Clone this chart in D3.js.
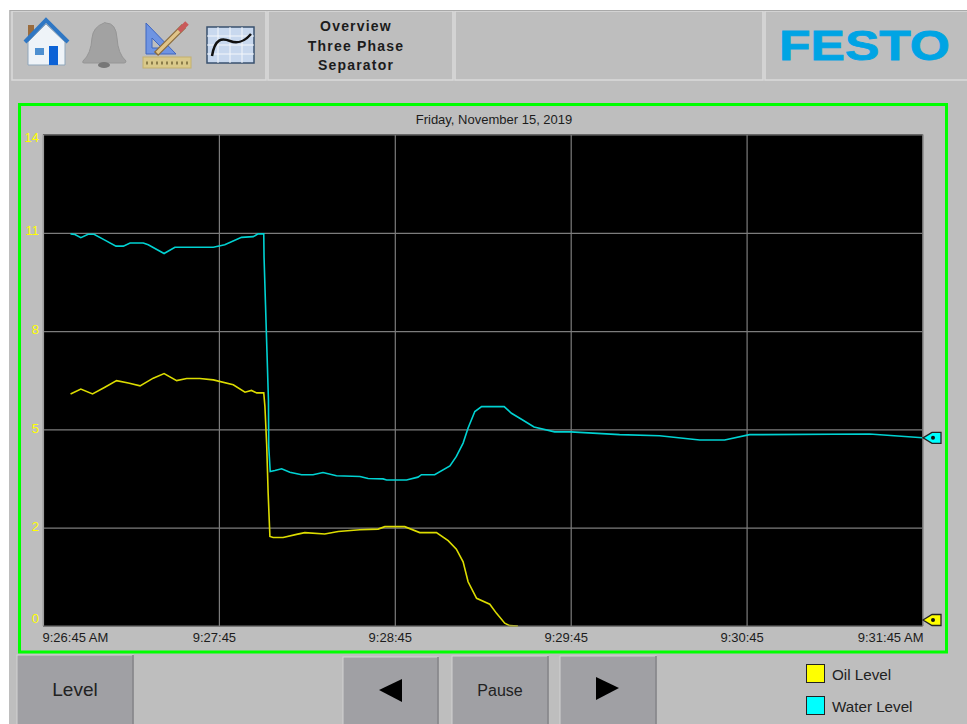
<!DOCTYPE html>
<html>
<head>
<meta charset="utf-8">
<title>Overview Three Phase Separator</title>
<script src="https://cdn.jsdelivr.net/npm/d3@7"></script>
<style>
    html, body { margin: 0; padding: 0; background: #fff; overflow: hidden; }
    svg { display: block; font-family: "Liberation Sans", Arial, sans-serif; }
</style>
</head>
<body>
<div id="hmi"></div>
<script>
const WIDTH = 967, HEIGHT = 724;
const PANEL = "#bebebe", BUTTON = "#a0a0a4";

const chartDate = "Friday, November 15, 2019";
const headerLines = ["Overview", "Three Phase", "Separator"];
const logoText = "FESTO";

// seconds after 9:26:45
const xTicks = [0, 60, 120, 180, 240, 300];
const xTickLabels = ["9:26:45 AM", "9:27:45", "9:28:45", "9:29:45", "9:30:45", "9:31:45 AM"];
const yTicks = [0, 2.8, 5.6, 8.4, 11.2, 14];
const yTickLabels = ["0", "2", "5", "8", "11", "14"];

const waterSeconds = [9.4, 10.9, 12.9, 15.4, 17.4, 21.1, 24.9, 27.4, 29.7, 34.2, 35.9, 41.3, 45, 58.1, 62, 67.7, 71.7, 73.4, 75.3, 75.4, 75.9, 76.4, 76.9, 77, 77.5, 79.1, 81.4, 84.2, 88.2, 92.1, 95.5, 100.1, 108.1, 110.9, 116, 117.2, 124, 127.9, 129.1, 133.6, 138.8, 141, 143.3, 145, 147.3, 149.6, 157.3, 159.8, 163.2, 167.5, 174.5, 180, 196.7, 210.3, 224, 232.5, 241, 281.9, 300];
const waterLevel = [11.17, 11.15, 11.06, 11.16, 11.16, 10.99, 10.82, 10.82, 10.91, 10.91, 10.86, 10.61, 10.79, 10.79, 10.86, 11.07, 11.09, 11.17, 11.17, 10.5, 9.15, 7.8, 6.44, 5.11, 4.4, 4.43, 4.48, 4.38, 4.31, 4.31, 4.37, 4.28, 4.26, 4.2, 4.19, 4.16, 4.16, 4.24, 4.31, 4.31, 4.56, 4.83, 5.21, 5.64, 6.11, 6.25, 6.25, 6.06, 5.89, 5.67, 5.53, 5.53, 5.45, 5.42, 5.3, 5.3, 5.45, 5.47, 5.36];

const oilSeconds = [9.4, 12.9, 16.9, 21.1, 25.1, 29.1, 33.1, 37.6, 41.3, 45.6, 49, 53.5, 58.1, 64.9, 68.9, 71.1, 72.9, 75.3, 75.7, 76.3, 76.8, 77.4, 78.5, 81.9, 86.5, 89.3, 96.1, 100.7, 108.1, 114.3, 116.6, 123.4, 128.5, 134.2, 138.2, 141, 143.3, 145, 147.9, 152.4, 154.7, 157.5, 159.2, 162];
const oilLevel = [6.61, 6.75, 6.61, 6.8, 6.99, 6.92, 6.84, 7.06, 7.19, 6.99, 7.05, 7.05, 7.01, 6.87, 6.66, 6.71, 6.64, 6.64, 6.25, 5.16, 3.78, 2.55, 2.52, 2.52, 2.61, 2.66, 2.62, 2.69, 2.74, 2.76, 2.83, 2.83, 2.66, 2.66, 2.43, 2.19, 1.83, 1.26, 0.79, 0.62, 0.36, 0.08, 0.01, 0];

const seriesNames = ["Oil Level", "Water Level"];
const seriesColors = ["#ffff00", "#00ffff"];
const lineColors = ["#dcdc00", "#00d2d2"];

const svg = d3.select("#hmi").append("svg").attr("width", WIDTH).attr("height", HEIGHT);

drawFrame();
drawIcons();
drawChart();
drawButtons();
drawLegend();

function drawFrame() {
    svg.append("rect").attr("x", 9).attr("y", 10).attr("width", WIDTH - 9).attr("height", HEIGHT - 10).attr("fill", PANEL);

    const cells = [[12, 254], [268, 185], [455, 308], [765, 210]];
    svg.selectAll("rect.cell")
        .data(cells)
        .enter().append("rect")
        .attr("class", "cell")
        .attr("x", d => d[0]).attr("y", 11)
        .attr("width", d => d[1]).attr("height", 69)
        .attr("fill", PANEL)
        .attr("stroke", "#dadada")
        .attr("stroke-width", 1.5);
    svg.append("line").attr("x1", 10).attr("x2", WIDTH).attr("y1", 10.5).attr("y2", 10.5).attr("stroke", "#a9a9a9");

    svg.selectAll("text.head")
        .data(headerLines)
        .enter().append("text")
        .attr("class", "head")
        .attr("x", 356)
        .attr("y", (d, i) => 31 + i * 19.5)
        .attr("text-anchor", "middle")
        .attr("font-size", 14)
        .attr("font-weight", "bold")
        .attr("letter-spacing", 1.2)
        .attr("fill", "#1c1c1c")
        .text(d => d);

    svg.append("text")
        .attr("x", 779).attr("y", 59.5)
        .attr("textLength", 171)
        .attr("lengthAdjust", "spacingAndGlyphs")
        .attr("font-size", 43)
        .attr("font-weight", "bold")
        .attr("fill", "#00a4e4")
        .attr("stroke", "#00a4e4")
        .attr("stroke-width", 0.8)
        .text(logoText);

    svg.append("rect")
        .attr("x", 19.5).attr("y", 104.5)
        .attr("width", 927).attr("height", 547.5)
        .attr("fill", "none")
        .attr("stroke", "#00ff00")
        .attr("stroke-width", 3);
}

function drawIcons() {
    // house
    const house = svg.append("g");
    house.append("rect").attr("x", 28).attr("y", 25).attr("width", 6).attr("height", 14).attr("fill", "#9a6b3c");
    house.append("path").attr("d", "M28 42 L46 24 L65 42 V65 H28 Z").attr("fill", "#eef3f8").attr("stroke", "#8fa6bb");
    house.append("path").attr("d", "M25 42 L46 20 L68 42").attr("fill", "none").attr("stroke", "#2f77c4").attr("stroke-width", 4);
    house.append("rect").attr("x", 35).attr("y", 48).attr("width", 9).attr("height", 7).attr("fill", "#4d8fd0");
    house.append("rect").attr("x", 49).attr("y", 46).attr("width", 9).attr("height", 19).attr("fill", "#0c62d6");

    // bell
    svg.append("path")
        .attr("d", "M104 23 Q104 22 106 23 Q116 23 117 38 Q118 54 126 61 Q126 63 124 63 H84 Q82 63 83 61 Q91 54 92 38 Q93 27 104 23 Z")
        .attr("fill", "#a2a2a2").attr("stroke", "#969696");
    svg.append("ellipse").attr("cx", 104).attr("cy", 65).attr("rx", 6).attr("ry", 3).attr("fill", "#777");

    // set square, ruler, pencil
    svg.append("path").attr("d", "M146 23 L176 54 H146 Z M152 38 V48 H162 Z").attr("fill", "#6f94e2").attr("fill-rule", "evenodd").attr("stroke", "#3f66c0");
    svg.append("rect").attr("x", 143).attr("y", 57).attr("width", 48).attr("height", 11).attr("fill", "#d9c98a").attr("stroke", "#c4b06c");
    svg.append("line").attr("x1", 146).attr("x2", 188).attr("y1", 63).attr("y2", 63).attr("stroke", "#8a7c4a").attr("stroke-width", 3).attr("stroke-dasharray", "2 3");
    svg.append("line").attr("x1", 156).attr("y1", 54).attr("x2", 184).attr("y2", 26).attr("stroke", "#8a6a3a").attr("stroke-width", 6);
    svg.append("line").attr("x1", 157).attr("y1", 53).attr("x2", 183).attr("y2", 27).attr("stroke", "#e0c488").attr("stroke-width", 3.5);
    svg.append("line").attr("x1", 179).attr("y1", 31).attr("x2", 187).attr("y2", 23).attr("stroke", "#c95a5a").attr("stroke-width", 5);

    // trend chart
    svg.append("rect").attr("x", 207).attr("y", 27).attr("width", 47).attr("height", 36).attr("fill", "#c8d8ee").attr("stroke", "#38506e").attr("stroke-width", 1.5);
    [218, 230, 242].forEach(x => svg.append("line").attr("x1", x).attr("x2", x).attr("y1", 27).attr("y2", 63).attr("stroke", "#f4f7fb"));
    [36, 45, 54].forEach(y => svg.append("line").attr("x1", 207).attr("x2", 254).attr("y1", y).attr("y2", y).attr("stroke", "#f4f7fb"));
    svg.append("path").attr("d", "M212 56 C215 38 222 38 230 41 C238 44 244 42 251 34").attr("fill", "none").attr("stroke", "#111").attr("stroke-width", 2.5);
}

function drawChart() {
    const left = 43, right = 922.5, top = 134.5, bottom = 626;
    const x = d3.scaleLinear().domain([0, 300]).range([left, right]);
    const y = d3.scaleLinear().domain([0, 14]).range([bottom, top]);

    svg.append("rect")
        .attr("x", left).attr("y", top)
        .attr("width", right - left).attr("height", bottom - top)
        .attr("fill", "#000");

    svg.append("text")
        .attr("x", 494).attr("y", 123.5)
        .attr("text-anchor", "middle")
        .attr("font-size", 13)
        .attr("fill", "#1c1c1c")
        .text(chartDate);

    const xAxis = svg.append("g")
        .attr("transform", `translate(0,${bottom})`)
        .call(d3.axisBottom(x).tickValues(xTicks).tickSize(top - bottom).tickFormat((d, i) => xTickLabels[i]));
    const yAxis = svg.append("g")
        .attr("transform", `translate(${left},0)`)
        .call(d3.axisLeft(y).tickValues(yTicks).tickSize(left - right).tickFormat((d, i) => yTickLabels[i]));

    [xAxis, yAxis].forEach(axis => {
        axis.select(".domain").remove();
        axis.selectAll("line").attr("stroke", "#7c7c7c").attr("stroke-width", 1.2);
        axis.selectAll("text").attr("font-size", 13).attr("font-family", "Liberation Sans, Arial, sans-serif");
    });

    xAxis.selectAll("text")
        .attr("fill", "#1c1c1c")
        .attr("y", 0)
        .attr("dy", 15.5)
        .attr("dx", (d, i) => i === 0 ? -1 : i === 5 ? 0.5 : -5)
        .attr("text-anchor", (d, i) => i === 0 ? "start" : i === 5 ? "end" : "middle");

    yAxis.selectAll("text")
        .attr("fill", "#ffff00")
        .attr("x", -4)
        .attr("dy", d => d === 14 ? 6.5 : d === 0 ? -3.5 : d > 8 ? 2 : 3);

    const line = d3.line().x(d => x(d[0])).y(d => y(d[1]));
    const oil = d3.zip(oilSeconds, oilLevel);
    const water = d3.zip(waterSeconds, waterLevel);

    [oil, water].forEach((rows, i) => {
        svg.append("path")
            .datum(rows)
            .attr("d", line)
            .attr("fill", "none")
            .attr("stroke", lineColors[i])
            .attr("stroke-width", 1.6);
    });

    // plot edge, over the lines
    svg.append("line").attr("x1", left).attr("x2", left).attr("y1", top).attr("y2", bottom).attr("stroke", "#a8a8a8").attr("stroke-width", 1.5);
    svg.append("line").attr("x1", left).attr("x2", right).attr("y1", top).attr("y2", top).attr("stroke", "#666");
    svg.append("line").attr("x1", left).attr("x2", right).attr("y1", bottom).attr("y2", bottom).attr("stroke", "#777");

    // end of line pointers, the oil one is held inside the plot
    const lastOil = oilLevel[oilLevel.length - 1], lastWater = waterLevel[waterLevel.length - 1];
    [lastOil, lastWater].forEach((v, i) => {
        const py = Math.min(y(v), bottom - 6);
        const g = svg.append("g").attr("transform", `translate(${right + 0.5},${py})`);
        g.append("path")
            .attr("d", "M0 0 L9 -5.5 H18 V5.5 H9 Z")
            .attr("fill", seriesColors[i])
            .attr("stroke", "#222")
            .attr("stroke-width", 1.3);
        g.append("circle").attr("cx", 10).attr("r", 2).attr("fill", "#111");
    });
}

function drawButtons() {
    const buttons = [
        { x: 17, y: 655, w: 116, label: "Level", size: 19 },
        { x: 343, y: 657, w: 95 },
        { x: 452, y: 656, w: 96, label: "Pause", size: 16 },
        { x: 560, y: 656, w: 96 }
    ];
    buttons.forEach(b => {
        const h = HEIGHT - b.y;
        svg.append("rect").attr("x", b.x).attr("y", b.y).attr("width", b.w).attr("height", h + 2)
            .attr("fill", BUTTON).attr("stroke", "#d2d2d2");
        svg.append("line").attr("x1", b.x + b.w).attr("x2", b.x + b.w).attr("y1", b.y).attr("y2", HEIGHT).attr("stroke", "#7d7d80").attr("stroke-width", 1.5);
        if (b.label) {
            svg.append("text")
                .attr("x", b.x + b.w / 2).attr("y", b.y + h / 2)
                .attr("dy", "0.36em")
                .attr("text-anchor", "middle")
                .attr("font-size", b.size)
                .attr("fill", "#222")
                .text(b.label);
        }
    });
    svg.append("path").attr("d", "M379 690 L402 679 V702 Z").attr("fill", "#000");
    svg.append("path").attr("d", "M596 677 V700 L619 688 Z").attr("fill", "#000");
}

function drawLegend() {
    const row = d3.scalePoint().domain(seriesNames).range([675, 707]);
    seriesNames.forEach((name, i) => {
        svg.append("rect")
            .attr("x", 806.5).attr("y", row(name) - 10.5)
            .attr("width", 18).attr("height", 18)
            .attr("fill", seriesColors[i])
            .attr("stroke", "#222");
        svg.append("text")
            .attr("x", 832).attr("y", row(name))
            .attr("dy", "0.36em")
            .attr("font-size", 15.2)
            .attr("fill", "#222")
            .text(name);
    });
}
</script>
</body>
</html>
